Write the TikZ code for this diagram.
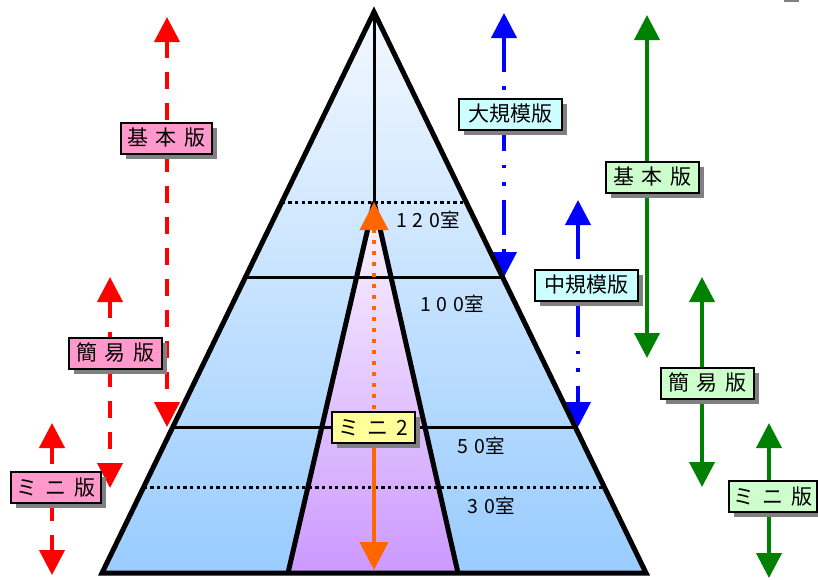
\documentclass[tikz,border=0pt]{standalone}
\usepackage{fontspec}
\newfontfamily\jp{Noto Sans CJK JP}
\usetikzlibrary{arrows.meta,shadows,calc}
\pgfdeclarelayer{fillayer}
\pgfdeclarelayer{arrowlayer}
\pgfdeclarelayer{labellayer}
\pgfsetlayers{fillayer,arrowlayer,main,labellayer}
\definecolor{pinkbox}{HTML}{FF99CC}
\definecolor{cyanbox}{HTML}{CCFFFF}
\definecolor{greenbox}{HTML}{CCFFCC}
\definecolor{yellowbox}{HTML}{FFFF99}
\definecolor{pyrtop}{HTML}{F2F8FF}
\definecolor{pyrbot}{HTML}{99CCFF}
\definecolor{intop}{HTML}{FAF5FF}
\definecolor{inbot}{HTML}{CC99FF}
\definecolor{arrred}{HTML}{FF0000}
\definecolor{arrblue}{HTML}{0000FF}
\definecolor{arrgreen}{HTML}{008000}
\definecolor{arrorange}{HTML}{FF6600}
\definecolor{shadowgray}{HTML}{808080}
\tikzset{
  lbl/.style={draw=black, line width=2pt, font=\jp\fontsize{21}{21}\selectfont,
    inner sep=0pt, minimum height=31pt,
    drop shadow={shadow xshift=5pt, shadow yshift=-5pt, fill=shadowgray, opacity=1}},
  roomtxt/.style={font=\jp\fontsize{19.5}{19.5}\selectfont, inner sep=0pt},
  redline/.style={arrred, line width=4pt, dash pattern=on 17pt off 14pt},
  blueline/.style={arrblue, line width=4pt, dash pattern=on 35pt off 14pt on 3.5pt off 14pt on 3.5pt off 14pt},
  greenline/.style={arrgreen, line width=4pt},
  orangedot/.style={arrorange, line width=4pt, dash pattern=on 4pt off 7pt},
  orangeline/.style={arrorange, line width=4pt},
  outline/.style={black, line width=5pt, line join=miter},
  floorline/.style={black, line width=3pt},
  dotline/.style={black, line width=3pt, dash pattern=on 3.3pt off 3.3pt},
  >={Triangle[width=25pt,length=25pt]}
}
\newcommand{\gp}{\hspace{8pt}}
\newcommand{\dg}{\hspace{6pt}}
\begin{document}
\begin{tikzpicture}[x=1pt,y=-1pt]
\useasboundingbox (0,0) rectangle (818,579);

% geometry
\coordinate (apex) at (374,12);
\coordinate (bl) at (102,573);
\coordinate (br) at (646,573);
\coordinate (l202) at ($(apex)!0.33868!(bl)$);
\coordinate (r202) at ($(apex)!0.33868!(br)$);
\coordinate (l277) at ($(apex)!0.47237!(bl)$);
\coordinate (r277) at ($(apex)!0.47237!(br)$);
\coordinate (l427) at ($(apex)!0.73975!(bl)$);
\coordinate (r427) at ($(apex)!0.73975!(br)$);
\coordinate (l487) at ($(apex)!0.84670!(bl)$);
\coordinate (r487) at ($(apex)!0.84670!(br)$);
\coordinate (itop) at (374,202);
\coordinate (ibl) at (288,573);
\coordinate (ibr) at (458,573);

\begin{pgfonlayer}{fillayer}
  \shade[top color=pyrtop, bottom color=pyrbot] (apex) -- (bl) -- (br) -- cycle;
  \shade[top color=intop, bottom color=inbot] (itop) -- (ibl) -- (ibr) -- cycle;
\end{pgfonlayer}

% labels
\begin{pgfonlayer}{labellayer}
  \node[lbl, fill=pinkbox, minimum width=91pt] (rk) at (166.5,138) {基\gp 本\gp 版};
  \node[lbl, fill=pinkbox, minimum width=93pt] (rs) at (115.5,353) {簡\gp 易\gp 版};
  \node[lbl, fill=pinkbox, minimum width=90pt] (rm) at (56,487) {ミ\gp ニ\gp 版};
  \node[lbl, fill=cyanbox, minimum width=103pt] (bk) at (510.5,114) {大規模版};
  \node[lbl, fill=cyanbox, minimum width=103pt] (bm) at (586.5,285) {中規模版};
  \node[lbl, fill=greenbox, minimum width=93pt] (gk) at (652.5,177) {基\gp 本\gp 版};
  \node[lbl, fill=greenbox, minimum width=93pt] (gs) at (707.5,383) {簡\gp 易\gp 版};
  \node[lbl, fill=greenbox, minimum width=88pt] (gm) at (773,496.5) {ミ\gp ニ\gp 版};
  \node[lbl, fill=yellowbox, minimum width=83pt] (m2) at (373.5,427.5) {ミ\gp ニ\gp 2};
\end{pgfonlayer}

% floors
\draw[dotline] (l202) -- (r202);
\draw[floorline] (l277) -- (r277);
\draw[floorline] (l427) -- (r427);
\draw[dotline] (l487) -- (r487);
\draw[floorline] (apex) -- (itop);
\draw[outline, line join=bevel] (ibl) -- (itop) -- (ibr);
\draw[outline] (apex) -- (bl) -- (br) -- cycle;

% room labels
\node[roomtxt] (r120) at (428,220) {1\dg 2\dg 0室};
\node[roomtxt] (r100) at (452,304) {1\dg 0\dg 0室};
\node[roomtxt] (r50) at (481,446) {5\dg 0室};
\node[roomtxt] (r30) at (491,506) {3\dg 0室};

% orange arrow (above pyramid lines)
\coordinate (o-t) at (374,202);
\coordinate (o-b) at (374,570);
\draw[orangedot, {Triangle[width=28pt,length=28pt]}-] (o-t) -- (o-t |- m2.north);
\draw[orangeline, -{Triangle[width=28pt,length=28pt]}] (o-t |- m2.south) -- (o-b);

% side arrows
\coordinate (rk-t) at (167,17);  \coordinate (rk-b) at (167,427);
\coordinate (rs-t) at (110,277); \coordinate (rs-b) at (110,488);
\coordinate (rm-t) at (52,423);  \coordinate (rm-b) at (52,575);
\coordinate (bk-t) at (504,13);  \coordinate (bk-b) at (504,277);
\coordinate (bm-t) at (578,200); \coordinate (bm-b) at (578,427);
\coordinate (gk-t) at (647,15);  \coordinate (gk-b) at (647,358);
\coordinate (gs-t) at (702,277); \coordinate (gs-b) at (702,487);
\coordinate (gm-t) at (769,423); \coordinate (gm-b) at (769,578);

\begin{pgfonlayer}{arrowlayer}
  \draw[redline,<-] (rk-t) -- (rk-t |- rk.north);
  \draw[redline,->] (rk-t |- rk.south) -- (rk-b);
  \draw[redline,<-] (rs-t) -- (rs-t |- rs.north);
  \draw[redline,->] (rs-t |- rs.south) -- (rs-b);
  \draw[redline,<-] (rm-t) -- (rm-t |- rm.north);
  \draw[redline,->] (rm-t |- rm.south) -- (rm-b);
  \draw[blueline,<-] (bk-t) -- (bk-t |- bk.north);
  \draw[blueline,->,dash phase=15pt] (bk-t |- bk.south) -- (bk-b);
  \draw[blueline,<-] (bm-t) -- (bm-t |- bm.north);
  \draw[blueline,->] (bm-t |- bm.south) -- (bm-b);
  \draw[greenline,<-] (gk-t) -- (gk-t |- gk.north);
  \draw[greenline,->] (gk-t |- gk.south) -- (gk-b);
  \draw[greenline,<-] (gs-t) -- (gs-t |- gs.north);
  \draw[greenline,->] (gs-t |- gs.south) -- (gs-b);
  \draw[greenline,<-] (gm-t) -- (gm-t |- gm.north);
  \draw[greenline,->] (gm-t |- gm.south) -- (gm-b);
\end{pgfonlayer}

\fill[shadowgray] (784,0) rectangle (799,1.5);
\end{tikzpicture}
\end{document}
